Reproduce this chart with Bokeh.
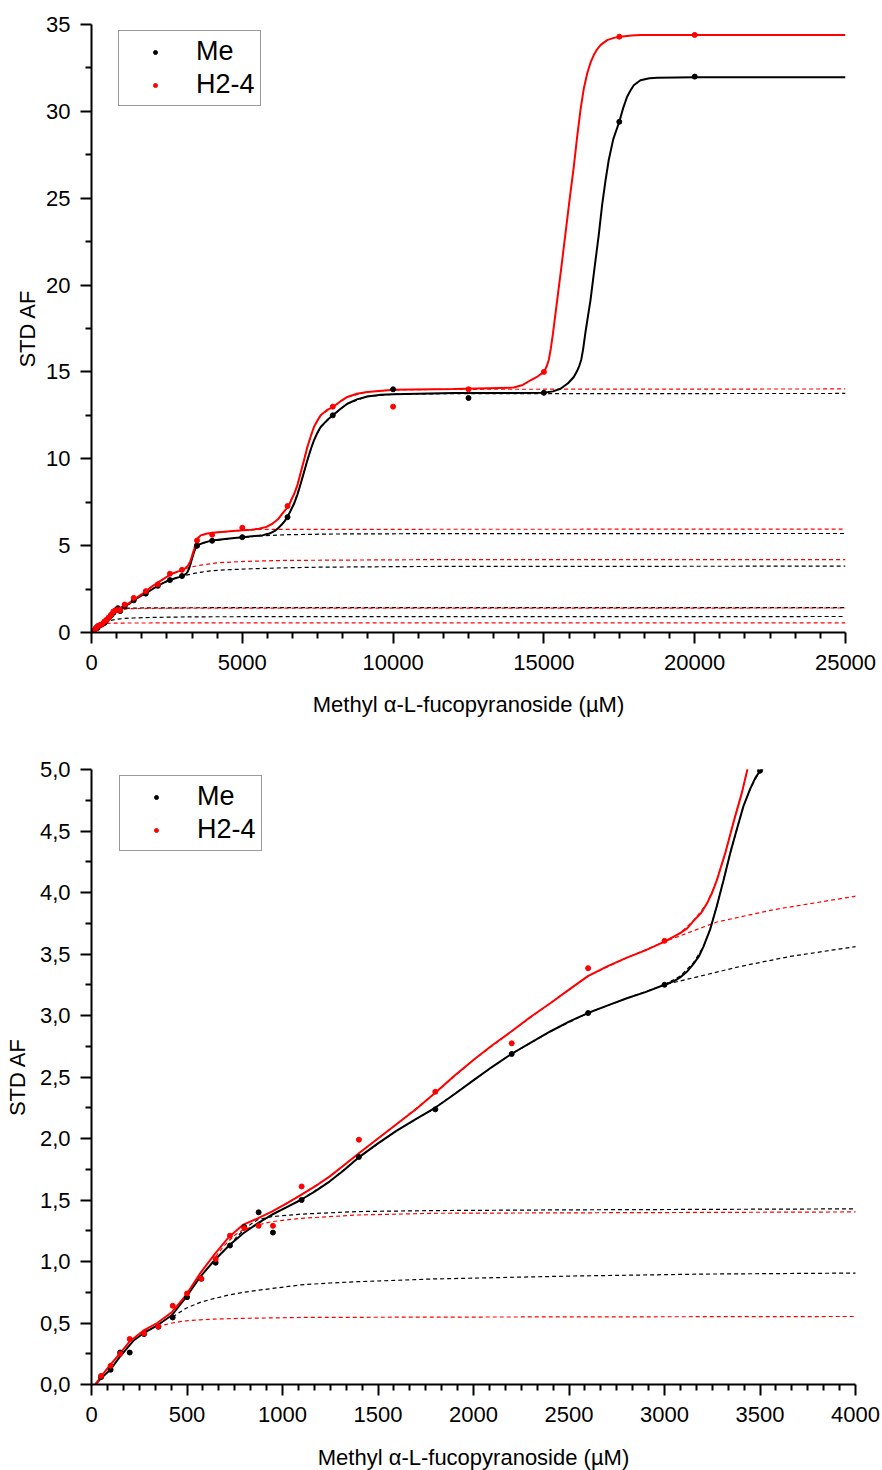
from bokeh.plotting import figure
from bokeh.layouts import column
from bokeh.models import Range1d, FixedTicker, Legend, LegendItem
from bokeh.embed import file_html
from bokeh.resources import INLINE

# ---------------- data ----------------
conc = [50, 100, 150, 200, 275, 350, 425, 500, 575, 650, 725, 800, 875, 950,
        1100, 1400, 1800, 2200, 2600, 3000, 3500, 4000, 5000, 6500, 8000,
        10000, 12500, 15000, 17500, 20000]
me_vals = [0.06, 0.12, 0.26, 0.26, 0.41, 0.47, 0.545, 0.71, 0.86, 0.99, 1.13,
           1.28, 1.40, 1.235, 1.50, 1.85, 2.237, 2.687, 3.02, 3.25, 4.99, 5.28,
           5.49, 6.64, 12.5, 14.0, 13.5, 13.8, 29.4, 32.0]
h24_vals = [0.07, 0.152, 0.25, 0.37, 0.415, 0.47, 0.64, 0.74, 0.86, 1.02, 1.21,
            1.27, 1.29, 1.29, 1.61, 1.99, 2.38, 2.774, 3.385, 3.607, 5.30, 5.63,
            6.03, 7.28, 13.0, 13.0, 14.0, 15.0, 34.3, 34.4]

# fitted curves (x, y)
me_fit = [(20, 0.0), (50, 0.05), (97, 0.117), (148, 0.225), (222, 0.36), (271, 0.415),
          (344, 0.48), (422, 0.565), (495, 0.71), (569, 0.875), (644, 1.01), (720, 1.13),
          (795, 1.23), (870, 1.31), (944, 1.38), (1020, 1.44), (1095, 1.50), (1170, 1.57),
          (1246, 1.65), (1320, 1.74), (1394, 1.84), (1500, 1.96), (1594, 2.06), (1700, 2.16),
          (1790, 2.24), (1900, 2.36), (2001, 2.475), (2100, 2.585), (2198, 2.687), (2300, 2.78),
          (2402, 2.87), (2500, 2.95), (2599, 3.02), (2700, 3.08), (2803, 3.14), (2900, 3.19),
          (3000, 3.25), (3050, 3.28), (3082, 3.31), (3120, 3.36), (3152, 3.42), (3180, 3.48),
          (3204, 3.56), (3239, 3.70), (3274, 3.89), (3309, 4.10), (3344, 4.32), (3378, 4.51),
          (3413, 4.70), (3448, 4.84), (3475, 4.93), (3500, 4.99), (3550, 5.05), (3600, 5.09),
          (3700, 5.15), (3850, 5.23), (4000, 5.29), (4500, 5.40), (5000, 5.49), (5400, 5.55),
          (5666, 5.59), (5900, 5.70), (6000, 5.78), (6107, 5.88), (6200, 6.02), (6300, 6.20),
          (6400, 6.40), (6494, 6.64), (6600, 7.0), (6714, 7.41), (6830, 7.95), (6935, 8.56),
          (7050, 9.25), (7157, 9.91), (7270, 10.55), (7376, 11.06), (7490, 11.5), (7598, 11.83),
          (7800, 12.2), (8000, 12.5), (8240, 12.85), (8483, 13.17), (8800, 13.42), (9145, 13.59),
          (9600, 13.68), (10027, 13.72), (12000, 13.78), (15000, 13.80), (15300, 13.88),
          (15550, 14.03), (15800, 14.35), (15991, 14.71), (16100, 15.05), (16180, 15.38),
          (16240, 15.72), (16300, 16.3), (16380, 17.3), (16460, 18.2), (16544, 19.12),
          (16680, 21.0), (16820, 22.9), (16930, 24.6), (17041, 26.0), (17150, 27.2),
          (17300, 28.4), (17500, 29.4), (17630, 30.2), (17759, 30.84), (17870, 31.2),
          (17980, 31.5), (18201, 31.79), (18500, 31.9), (18754, 31.93), (20000, 31.97),
          (25000, 31.97)]
h24_fit = [(20, 0.0), (49, 0.062), (97, 0.157), (148, 0.25), (198, 0.347), (271, 0.437),
           (344, 0.50), (422, 0.59), (495, 0.727), (569, 0.904), (644, 1.058), (720, 1.20),
           (795, 1.30), (870, 1.35), (944, 1.405), (1020, 1.47), (1095, 1.54), (1170, 1.61),
           (1246, 1.69), (1320, 1.78), (1400, 1.88), (1500, 2.00), (1600, 2.12), (1700, 2.24),
           (1797, 2.367), (1900, 2.51), (2001, 2.64), (2100, 2.76), (2198, 2.87), (2300, 2.99),
           (2402, 3.10), (2500, 3.21), (2599, 3.32), (2700, 3.40), (2803, 3.47), (2900, 3.53),
           (3000, 3.60), (3082, 3.67), (3120, 3.71), (3152, 3.77), (3190, 3.83), (3222, 3.91),
           (3250, 4.00), (3274, 4.10), (3318, 4.32), (3361, 4.57), (3405, 4.81), (3434, 5.00),
           (3460, 5.15), (3490, 5.29), (3540, 5.45), (3622, 5.59), (3800, 5.68), (4009, 5.74),
           (4500, 5.82), (5003, 5.88), (5300, 5.92), (5555, 5.97), (5800, 6.08), (5996, 6.26),
           (6100, 6.40), (6200, 6.55), (6326, 6.84), (6450, 7.10), (6547, 7.32), (6640, 7.70),
           (6714, 7.95), (6822, 8.45), (6935, 9.2), (7050, 9.95), (7157, 10.68), (7270, 11.3),
           (7376, 11.83), (7490, 12.2), (7598, 12.5), (7800, 12.8), (8000, 12.98),
           (8250, 13.3), (8483, 13.56), (8800, 13.74), (9145, 13.85), (10027, 13.97),
           (12000, 14.02), (14000, 14.1), (14300, 14.25), (14556, 14.52), (14800, 14.75),
           (15000, 15.0), (15050, 15.17), (15110, 15.4), (15163, 15.7), (15230, 16.35),
           (15300, 17.2), (15440, 19.12), (15580, 21.05), (15716, 22.97), (15850, 24.9),
           (15991, 26.8), (16100, 28.5), (16213, 30.07), (16324, 31.32), (16435, 32.18),
           (16545, 32.8), (16654, 33.24), (16760, 33.56), (16876, 33.81), (17097, 34.10),
           (17317, 34.23), (17538, 34.29), (17900, 34.36), (18201, 34.4), (25000, 34.4)]

# dashed partial-fit components
me_comp1 = [(425, 0.55), (495, 0.62), (569, 0.668), (644, 0.70), (720, 0.728), (795, 0.749),
            (870, 0.766), (944, 0.78), (1095, 0.81), (1250, 0.825), (1394, 0.836),
            (1790, 0.858), (2524, 0.882), (3222, 0.898), (4000, 0.906), (8000, 0.915),
            (25000, 0.92)]
me_comp2 = [(725, 1.13), (760, 1.20), (800, 1.26), (835, 1.305), (870, 1.34), (944, 1.365),
            (1095, 1.385), (1394, 1.406), (1790, 1.414), (2500, 1.42), (4000, 1.428),
            (25000, 1.43)]
me_comp3 = [(875, 1.31), (944, 1.38), (1095, 1.50), (1246, 1.65), (1394, 1.84), (1594, 2.06),
            (1790, 2.24), (2001, 2.475), (2198, 2.687), (2402, 2.87), (2599, 3.02),
            (2803, 3.14), (3000, 3.25), (3187, 3.32), (3400, 3.40), (3657, 3.48), (4000, 3.56),
            (4600, 3.62), (5334, 3.67), (6300, 3.72), (7542, 3.76), (10747, 3.80),
            (25000, 3.82)]
me_comp4 = [(3000, 3.25), (3082, 3.32), (3152, 3.43), (3204, 3.56), (3239, 3.70), (3274, 3.89),
            (3309, 4.10), (3344, 4.32), (3378, 4.51), (3413, 4.70), (3448, 4.84), (3500, 4.99),
            (3600, 5.08), (3700, 5.15), (4000, 5.29), (5000, 5.48), (5666, 5.57), (6500, 5.63),
            (8000, 5.67), (11000, 5.69), (25000, 5.70)]
me_comp5 = [(5500, 5.56), (5900, 5.70), (6107, 5.88), (6300, 6.20), (6494, 6.64), (6714, 7.41),
            (6935, 8.56), (7157, 9.91), (7376, 11.06), (7598, 11.83), (8000, 12.5),
            (8483, 13.17), (9145, 13.59), (10027, 13.72), (12000, 13.75), (25000, 13.76)]
h24_comp1 = [(275, 0.437), (344, 0.47), (422, 0.50), (495, 0.518), (569, 0.526), (644, 0.532),
             (795, 0.538), (1095, 0.545), (1800, 0.548), (4000, 0.553), (25000, 0.558)]
h24_comp2 = [(650, 1.04), (685, 1.11), (720, 1.17), (755, 1.22), (790, 1.254), (870, 1.297),
             (944, 1.324), (1095, 1.351), (1394, 1.378), (1790, 1.392), (4000, 1.403),
             (25000, 1.41)]
h24_comp3 = [(944, 1.405), (1095, 1.54), (1246, 1.69), (1400, 1.88), (1600, 2.12),
             (1797, 2.367), (2001, 2.64), (2198, 2.87), (2402, 3.10), (2599, 3.32),
             (2803, 3.47), (3000, 3.60), (3274, 3.76), (3570, 3.86), (4000, 3.97),
             (4228, 4.02), (5200, 4.10), (6438, 4.15), (10747, 4.19), (25000, 4.20)]
h24_comp4 = [(3000, 3.60), (3082, 3.67), (3152, 3.77), (3222, 3.91), (3274, 4.10), (3318, 4.32),
             (3361, 4.57), (3405, 4.81), (3434, 5.00), (3490, 5.29), (3540, 5.45), (3622, 5.59),
             (4009, 5.74), (5003, 5.88), (5555, 5.93), (7000, 5.94), (25000, 5.95)]
h24_comp5 = [(5555, 5.97), (5800, 6.08), (5996, 6.26), (6200, 6.55), (6326, 6.84),
             (6547, 7.32), (6714, 7.95), (6822, 8.45), (6935, 9.2), (7157, 10.68),
             (7376, 11.83), (7598, 12.5), (8000, 12.98), (8483, 13.56), (9145, 13.85),
             (10027, 13.97), (12000, 14.0), (25000, 14.02)]

series_names = ["Me", "H2-4"]
series_colors = ["#000000", "#FF0000"]

# ticks
x1_ticks = [0, 5000, 10000, 15000, 20000, 25000]
y1_ticks = [0, 5, 10, 15, 20, 25, 30, 35]
x2_ticks = [0, 500, 1000, 1500, 2000, 2500, 3000, 3500, 4000]
y2_ticks = [0.0, 0.5, 1.0, 1.5, 2.0, 2.5, 3.0, 3.5, 4.0, 4.5, 5.0]
y2_labels = ["0,0", "0,5", "1,0", "1,5", "2,0", "2,5", "3,0", "3,5", "4,0", "4,5", "5,0"]

x_title = "Methyl α-L-fucopyranoside (µM)"
y_title = "STD AF"

FONT = "Liberation Sans"


def minor_from(ticks, n):
    out = []
    for a, b in zip(ticks[:-1], ticks[1:]):
        step = (b - a) / n
        out += [a + k * step for k in range(1, n)]
    return out


def xs(pts):
    return [p[0] for p in pts]


def ys(pts):
    return [p[1] for p in pts]


def build(xr, yr, fw, fh, border, xt, yt, nxm, ylabels, legend_loc, legend_vy,
          x_title_standoff, y_title_standoff):
    p = figure(frame_width=fw, frame_height=fh,
               min_border_left=border[0], min_border_right=border[1],
               min_border_top=border[2], min_border_bottom=border[3],
               x_range=Range1d(*xr), y_range=Range1d(*yr),
               output_backend="svg", toolbar_location=None)
    p.xgrid.visible = False
    p.ygrid.visible = False
    p.outline_line_color = None
    p.background_fill_color = "white"
    p.border_fill_color = "white"

    p.xaxis.ticker = FixedTicker(ticks=xt, minor_ticks=minor_from(xt, nxm))
    p.yaxis.ticker = FixedTicker(ticks=yt, minor_ticks=minor_from(yt, 2))
    if ylabels is not None:
        p.yaxis.major_label_overrides = {t: l for t, l in zip(yt, ylabels)}
    p.xaxis.axis_label = x_title
    p.yaxis.axis_label = y_title
    for ax in (p.xaxis[0], p.yaxis[0]):
        ax.axis_line_width = 2
        ax.axis_line_color = "black"
        ax.major_tick_line_width = 2
        ax.minor_tick_line_width = 2
        ax.major_tick_line_color = "black"
        ax.minor_tick_line_color = "black"
        ax.major_tick_out = 11
        ax.major_tick_in = 0
        ax.minor_tick_out = 6
        ax.minor_tick_in = 0
        ax.major_label_text_font = FONT
        ax.major_label_text_font_size = "22px"
        ax.major_label_text_color = "black"
        ax.axis_label_text_font = FONT
        ax.axis_label_text_font_size = "22px"
        ax.axis_label_text_font_style = "normal"
        ax.axis_label_text_color = "black"
    p.xaxis.major_label_standoff = 11
    p.yaxis.major_label_standoff = 10
    p.xaxis.axis_label_standoff = x_title_standoff
    p.yaxis.axis_label_standoff = y_title_standoff

    comps = [[me_comp1, me_comp2, me_comp3, me_comp4, me_comp5],
             [h24_comp1, h24_comp2, h24_comp3, h24_comp4, h24_comp5]]
    fits = [me_fit, h24_fit]
    vals = [me_vals, h24_vals]
    for col, comp_list in zip(series_colors, comps):
        for c in comp_list:
            p.line(xs(c), ys(c), line_color=col, line_width=1.2, line_dash="4 3")
    for col, f in zip(series_colors, fits):
        p.line(xs(f), ys(f), line_color=col, line_width=2)
    rends = []
    for col, v in zip(series_colors, vals):
        r = p.scatter(conc, v, marker="circle", size=5, fill_color=col, line_color=col)
        rends.append(r)

    legend = Legend(items=[LegendItem(label=n, renderers=[r]) for n, r in zip(series_names, rends)],
                    location=(legend_loc, legend_vy),
                    label_text_font=FONT, label_text_font_size="27px",
                    label_text_color="black",
                    padding=5, spacing=2, glyph_width=62, glyph_height=10,
                    label_height=30, label_standoff=10, margin=0,
                    border_line_color="#333333", border_line_width=1,
                    background_fill_alpha=1.0)
    p.add_layout(legend)
    return p


p1 = build((0, 25000), (0, 35), 754, 608, (91, 37, 24, 105), x1_ticks, y1_ticks, 6, None,
           27, 526, 19, 3)
p2 = build((0, 4000), (0, 5), 764, 615, (91, 27, 32, 86), x2_ticks, y2_ticks, 6, y2_labels,
           28, 533, 20, 7)

layout = column(p1, p2, spacing=0)
open("out.html", "w").write(file_html(layout, INLINE))
